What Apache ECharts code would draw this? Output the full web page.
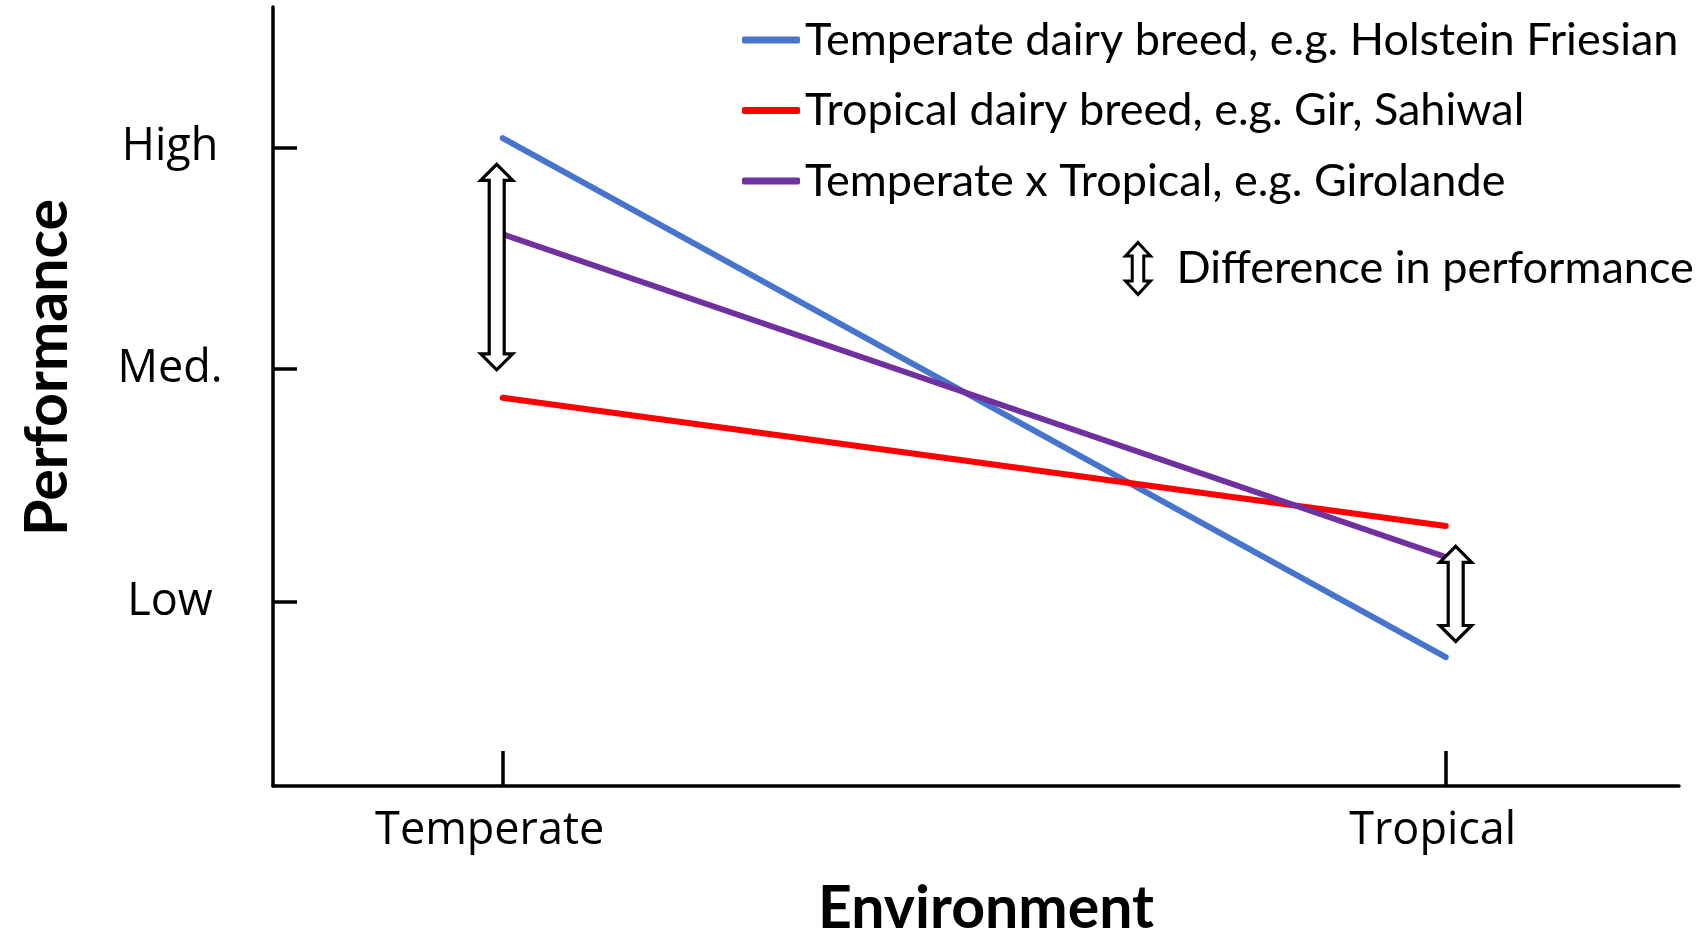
<!DOCTYPE html>
<html><head><meta charset="utf-8">
<script src="https://cdn.jsdelivr.net/npm/echarts@6/dist/echarts.min.js"></script>
<style>html,body{margin:0;padding:0;background:#fff}#c{width:1703px;height:943px}</style>
</head><body><div id="c"></div>
<script>
// ---- data ----
const environments = ['Temperate', 'Tropical'];
const levelLabels = ['Low', 'Med.', 'High'];
const levelValues = [23.6, 53.55, 81.95];
const seriesNames = [
  'Temperate dairy breed, e.g. Holstein Friesian',
  'Tropical dairy breed, e.g. Gir, Sahiwal',
  'Temperate x Tropical, e.g. Girolande'
];
const temperateBreed = [83.18, 16.53];
const tropicalBreed = [49.83, 33.37];
const crossBreed = [70.83, 29.4];
const differenceName = 'Difference in performance';
const differenceTop = [79.81, 30.77];
const differenceBottom = [53.43, 18.55];

// ---- build ----
const envX = environments.map((_, i) => i + 1);
const toPts = arr => arr.map((v, i) => [envX[i], v]);
const arrowData = envX.map((x, i) => [x, differenceTop[i], differenceBottom[i]]);
const colors = ['#4775CC', '#FF0000', '#7030A0'];

function renderArrow(params, api) {
  const x = api.value(0);
  const p1 = api.coord([x, api.value(1)]);
  const p2 = api.coord([x, api.value(2)]);
  const shift = params.dataIndex === 0 ? -6 : 10;
  const cx = p1[0] + shift, t = p1[1], b = p2[1];
  const hw = 16, sw = 7.5, hl = 16;
  return {
    type: 'polygon',
    shape: { points: [[cx, t], [cx + hw, t + hl], [cx + sw, t + hl], [cx + sw, b - hl], [cx + hw, b - hl],
                      [cx, b], [cx - hw, b - hl], [cx - sw, b - hl], [cx - sw, t + hl], [cx - hw, t + hl]] },
    style: { fill: '#fff', stroke: '#000', lineWidth: 3.2, lineJoin: 'miter' }
  };
}

const chart = echarts.init(document.getElementById('c'), null, { renderer: 'canvas' });
const lineSeries = [temperateBreed, tropicalBreed, crossBreed].map((arr, i) => ({
  name: seriesNames[i],
  type: 'line',
  data: toPts(arr),
  showSymbol: false,
  symbol: 'none',
  lineStyle: { color: colors[i], width: 6, cap: 'round' },
  itemStyle: { color: colors[i] },
  z: 3 + i
}));

chart.setOption({
  animation: false,
  backgroundColor: '#fff',
  grid: { left: 273, top: 7, right: 24, bottom: 144, containLabel: false },
  legend: [{
    data: seriesNames,
    orient: 'vertical',
    left: 737, top: 10,
    itemWidth: 58, itemHeight: 7, itemGap: 20.5,
    icon: 'roundRect',
    selectedMode: false,
    textStyle: { fontFamily: 'Lato', fontSize: 45, color: '#000', lineHeight: 50 }
  }, {
    data: [{
      name: differenceName,
      icon: 'path://M13 0 L26 14 L19 14 L19 40 L26 40 L13 54 L0 40 L7 40 L7 14 L0 14 Z',
      itemStyle: { color: '#fff', borderColor: '#000', borderWidth: 3 }
    }],
    left: 1119, top: 236,
    itemWidth: 25, itemHeight: 54,
    selectedMode: false,
    textStyle: { fontFamily: 'Lato', fontSize: 45, color: '#000', lineHeight: 50, padding: [0, 0, 0, 21] }
  }],
  xAxis: {
    type: 'value',
    min: 0.7564, max: 2.2474,
    name: 'Environment',
    nameLocation: 'middle',
    nameGap: 93,
    nameTextStyle: { fontFamily: 'Lato', fontWeight: 'bold', fontSize: 59, color: '#000', padding: [0, 0, 0, 20] },
    axisLine: { show: true, lineStyle: { color: '#000', width: 3.5 } },
    axisTick: { show: true, inside: true, length: 35, customValues: envX, lineStyle: { color: '#000', width: 3.5 } },
    axisLabel: { customValues: envX, margin: 23, fontFamily: 'Open Sans', fontSize: 45, color: '#000',
                 padding: [0, 26, 0, 0],
                 formatter: v => environments[Math.round(v) - 1] || '' },
    splitLine: { show: false }
  },
  yAxis: {
    type: 'value',
    min: 0, max: 100,
    name: 'Performance',
    nameLocation: 'middle',
    nameRotate: 90,
    nameGap: 196,
    nameTextStyle: { fontFamily: 'Lato', fontWeight: 'bold', fontSize: 59, color: '#000', padding: [0, 0, 0, 58] },
    axisLine: { show: true, lineStyle: { color: '#000', width: 3.5 } },
    axisTick: { show: true, inside: true, length: 24, customValues: levelValues, lineStyle: { color: '#000', width: 3.5 } },
    axisLabel: { customValues: levelValues, margin: 103, align: 'center', fontFamily: 'Open Sans', fontSize: 45, color: '#000',
                 padding: [5, 0, 0, 0],
                 formatter: v => { const k = levelValues.indexOf(v); return k >= 0 ? levelLabels[k] : ''; } },
    splitLine: { show: false }
  },
  series: lineSeries.concat([{
    name: differenceName,
    type: 'custom',
    renderItem: renderArrow,
    data: arrowData,
    encode: { x: 0, y: [1, 2] },
    itemStyle: { color: '#fff', borderColor: '#000' },
    z: 10,
    clip: false
  }])
});
</script>
</body></html>
